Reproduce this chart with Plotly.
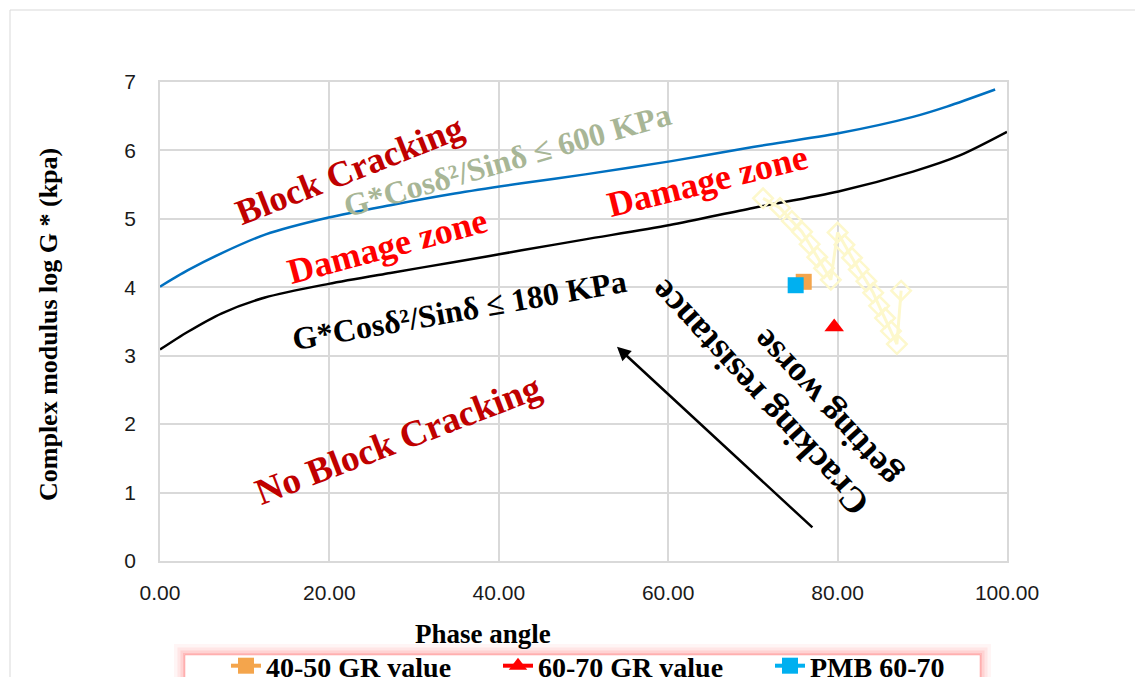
import plotly.graph_objects as go

# ---------------- data ----------------
limit600_x = [0, 3.3, 7.3, 12.4, 19.9, 27.2, 34.8, 42.7, 50.2, 60.2, 70.0, 80.1, 88.9, 92.9, 98.6]
limit600_y = [4.01, 4.25, 4.50, 4.77, 5.02, 5.20, 5.37, 5.52, 5.65, 5.84, 6.05, 6.25, 6.49, 6.64, 6.89]

limit180_x = [0, 3.3, 7.3, 12.4, 19.9, 27.2, 34.8, 42.7, 50.2, 60.2, 70.0, 80.1, 88.9, 94.5, 100]
limit180_y = [3.09, 3.35, 3.62, 3.85, 4.05, 4.21, 4.37, 4.54, 4.70, 4.91, 5.16, 5.40, 5.69, 5.93, 6.27]

aging_x = [71.2, 73.2, 74.6, 75.8, 76.7, 77.6, 78.4, 79.2, 80.0, 80.8, 81.7, 82.5, 83.4, 84.2, 84.9, 85.6, 86.3, 87.0, 87.5]
aging_y = [5.30, 5.16, 4.97, 4.81, 4.63, 4.44, 4.28, 4.11, 4.80, 4.62, 4.43, 4.26, 4.09, 3.92, 3.73, 3.55, 3.36, 3.17, 3.95]

gr4050_x = [76.0]
gr4050_y = [4.08]
gr6070_x = [79.6]
gr6070_y = [3.42]
pmb_x = [75.05]
pmb_y = [4.03]

x_ticks = [0, 20, 40, 60, 80, 100]
y_ticks = [0, 1, 2, 3, 4, 5, 6, 7]

# ---------------- figure ----------------
OFF = 8  # page body margin
W, H = 1143, 677
L, R, T, B = 152, 144, 74, 124
pw, ph = W - L - R, H - T - B


def px(xp):
    """page x pixel -> paper fraction"""
    return (xp - OFF - L) / pw


def py(yp):
    """page y pixel -> paper fraction"""
    return (H - B - (yp - OFF)) / ph


SERIF = "Liberation Serif, Times New Roman, serif"
SANS = "Liberation Sans, Arial, sans-serif"

fig = go.Figure()

fig.add_trace(go.Scatter(x=limit600_x, y=limit600_y, mode="lines",
                         line=dict(color="#0070C0", width=2.5, shape="spline", smoothing=0.8),
                         showlegend=False, hoverinfo="skip"))
fig.add_trace(go.Scatter(x=limit180_x, y=limit180_y, mode="lines",
                         line=dict(color="#000000", width=2.5, shape="spline", smoothing=0.8),
                         showlegend=False, hoverinfo="skip"))
fig.add_trace(go.Scatter(x=aging_x, y=aging_y, mode="lines+markers",
                         line=dict(color="#FDF8CC", width=3),
                         marker=dict(symbol="diamond-open", size=15, color="#FDF8CC", line=dict(width=2.5, color="#FDF8CC")),
                         showlegend=False))
fig.add_trace(go.Scatter(x=gr4050_x, y=gr4050_y, mode="lines+markers", name="<b>40-50 GR value</b>",
                         line=dict(color="#F4A54C", width=4),
                         marker=dict(symbol="square", size=16, color="#F4A54C")))
fig.add_trace(go.Scatter(x=gr6070_x, y=gr6070_y, mode="lines+markers", name="<b>60-70 GR value</b>",
                         line=dict(color="#FF0000", width=4),
                         marker=dict(symbol="triangle-up", size=17, color="#FF0000")))
fig.add_trace(go.Scatter(x=pmb_x, y=pmb_y, mode="lines+markers", name="<b>PMB 60-70</b>",
                         line=dict(color="#00B0F0", width=4),
                         marker=dict(symbol="square", size=16, color="#00B0F0")))

annotations = [
    dict(x=22.4, y=5.71, text="<b>Block Cracking</b>", textangle=-21.5, font=dict(family=SERIF, size=36, color="#C00000")),
    dict(x=41.0, y=5.86, text="<b>G*Cosδ²/Sinδ ≤ 600 KPa</b>", textangle=-16, font=dict(family=SERIF, size=32, color="#A8B696")),
    dict(x=26.9, y=4.60, text="<b>Damage zone</b>", textangle=-15, font=dict(family=SERIF, size=36, color="#FF0000")),
    dict(x=64.6, y=5.55, text="<b>Damage zone</b>", textangle=-14, font=dict(family=SERIF, size=36, color="#FF0000")),
    dict(x=35.4, y=3.67, text="<b>G*Cosδ²/Sinδ ≤ 180 KPa</b>", textangle=-10, font=dict(family=SERIF, size=32, color="#000000")),
    dict(x=28.1, y=1.77, text="<b>No Block Cracking</b>", textangle=-21, font=dict(family=SERIF, size=37, color="#C00000")),
    dict(x=70.8, y=2.38, text="<b>Cracking resistance</b>", textangle=-132.5, font=dict(family=SERIF, size=36, color="#000000")),
    dict(x=78.6, y=2.23, text="<b>getting worse</b>", textangle=-132.5, font=dict(family=SERIF, size=35, color="#000000")),
]
for a in annotations:
    a.update(xref="x", yref="y", showarrow=False, xanchor="center", yanchor="middle")

# arrow
annotations.append(dict(x=53.95, y=3.13, ax=77.2, ay=0.47, xref="x", yref="y", axref="x", ayref="y",
                        text="", showarrow=True, arrowhead=2, arrowsize=1.1, arrowwidth=2.5, arrowcolor="#000000"))
# axis titles
annotations.append(dict(xref="paper", yref="paper", x=px(48), y=py(325), text="<b>Complex modulus log G * (kpa)</b>",
                        textangle=-90, showarrow=False, font=dict(family=SERIF, size=26, color="#000000"),
                        xanchor="center", yanchor="middle"))
annotations.append(dict(xref="paper", yref="paper", x=px(483), y=py(634), text="<b>Phase angle</b>",
                        showarrow=False, font=dict(family=SERIF, size=27, color="#000000"),
                        xanchor="center", yanchor="middle"))

shapes = [
    # outer chart border
    dict(type="rect", xref="paper", yref="paper", x0=px(10), x1=px(1170), y0=py(10), y1=py(720),
         line=dict(color="#D9D9D9", width=1), fillcolor="rgba(0,0,0,0)", layer="below"),
]
# legend box with soft red glow
for w, op in [(22, 0.05), (15, 0.08), (9, 0.11), (4, 0.16)]:
    shapes.append(dict(type="rect", xref="paper", yref="paper", x0=px(185), x1=px(980), y0=py(655), y1=py(740),
                       line=dict(color=f"rgba(255,60,60,{op})", width=w), fillcolor="rgba(0,0,0,0)", layer="below"))
shapes.append(dict(type="rect", xref="paper", yref="paper", x0=px(185), x1=px(980), y0=py(655), y1=py(740),
                   line=dict(color="rgba(255,120,120,0.35)", width=1), fillcolor="#FFFFFF", layer="below"))

fig.update_layout(
    width=W, height=H,
    margin=dict(l=L, r=R, t=T, b=B, autoexpand=False),
    paper_bgcolor="#FFFFFF", plot_bgcolor="#FFFFFF",
    annotations=annotations, shapes=shapes,
    legend=dict(orientation="h", x=px(226), y=py(641), xanchor="left", yanchor="top",
                font=dict(family=SERIF, size=28, color="#000000"), bgcolor="rgba(0,0,0,0)",
                entrywidth=227, entrywidthmode="pixels", itemwidth=30),
    xaxis=dict(range=[0, 100], tickvals=x_ticks, tickformat=".2f", showgrid=True, gridcolor="#D9D9D9", gridwidth=1.5,
               zeroline=False, showline=True, linecolor="#D9D9D9", linewidth=1.5, mirror=True,
               tickfont=dict(family=SANS, size=21, color="#1A1A1A"), ticks="", ticklabelstandoff=12),
    yaxis=dict(range=[0, 7], tickvals=y_ticks, showgrid=True, gridcolor="#D9D9D9", gridwidth=1.5,
               zeroline=False, showline=True, linecolor="#D9D9D9", linewidth=1.5, mirror=True,
               tickfont=dict(family=SANS, size=21, color="#1A1A1A"), ticks="", ticklabelstandoff=18),
)

fig.write_html("out.html")
